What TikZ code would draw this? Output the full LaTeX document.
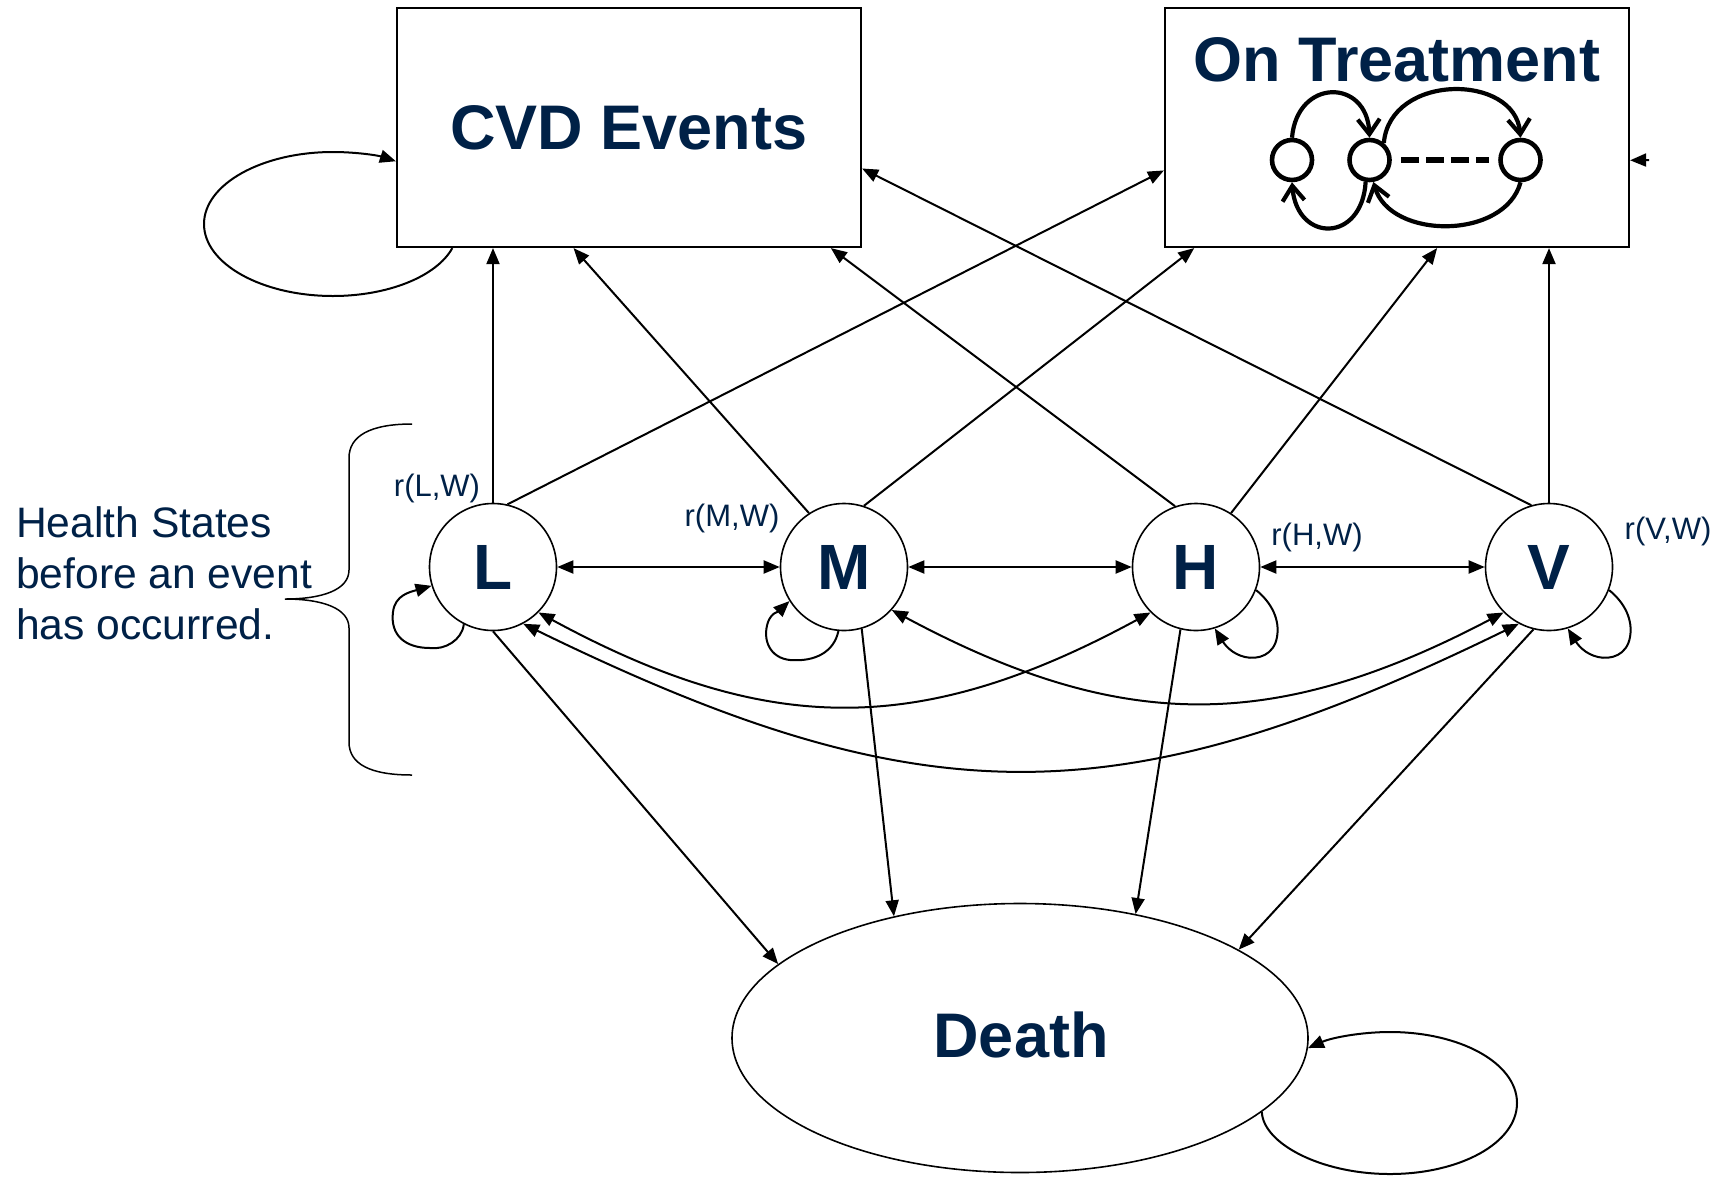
\documentclass[tikz,border=0pt]{standalone}
\usepackage{fontspec}
\setmainfont{Liberation Sans}
\usetikzlibrary{arrows.meta,calc,shapes.geometric}
\definecolor{navy}{HTML}{002147}
\begin{document}
\begin{tikzpicture}[x=1pt,y=-1pt,
  conn/.style={line width=2pt,-{Triangle[length=16pt,width=13pt]}},
  dconn/.style={line width=2pt,{Triangle[length=16pt,width=13pt]}-{Triangle[length=16pt,width=13pt]}},
  stbox/.style={draw,line width=2.2pt,minimum width=464pt,minimum height=239pt,inner sep=0pt},
  bigfont/.style={font=\fontsize{63}{70}\selectfont\bfseries,text=navy},
  state/.style={circle,draw,line width=1.6pt,minimum size=127pt,inner sep=0pt,font=\fontsize{64}{70}\selectfont\bfseries,text=navy},
  rlab/.style={font=\fontsize{31}{36}\selectfont,text=navy,inner sep=0pt},
  mini/.style={circle,draw,line width=4.6pt,minimum size=40pt,inner sep=0pt},
  barb/.style={line width=4.2pt,-{Straight Barb[length=15pt,width=22pt]}},
]
\useasboundingbox (0,0) rectangle (1721,1176);
\fill[white] (0,0) rectangle (1721,1176);

% boxes
\node[stbox,bigfont] (CVD) at (629,127.5) {CVD Events};
\node[stbox] (OT) at (1397,127.5) {};
\node[bigfont,anchor=base,inner sep=0pt] (ottitle) at (1397,81) {On Treatment};

% mini diagram
\node[mini] (c1) at (1292,160) {};
\node[mini] (c2) at (1369.5,160) {};
\node[mini] (c3) at (1520.5,160) {};
\draw[line width=6pt,dash pattern=on 18pt off 7pt,shorten <=9pt,shorten >=9pt] (c2) -- (c3);
\draw[barb] (c1.north) .. controls (1297,78) and (1367,78) .. (c2.north);
\draw[barb] (c2.50) .. controls (1390,73) and (1515,73) .. (c3.north);
\draw[barb] (c2.-100) .. controls (1362,243) and (1297,243) .. (c1.south);
\draw[barb] (c3.south) .. controls (1505,240) and (1390,240) .. (c2.-80);

% states
\node[state] (L) at (493,567) {L};
\node[state] (M) at (844,567) {M};
\node[state] (H) at (1196,567) {H};
\node[state] (V) at (1549,567) {V};

% death
\node[ellipse,draw,line width=1.6pt,minimum width=576pt,minimum height=269pt,inner sep=0pt] (D) at (1020,1038) {};
\node[bigfont,anchor=base,inner sep=0pt] (dtext) at (1021,1057) {Death};

% labels
\node[rlab] (rL) at (437,488) {r(L,W)};
\node[rlab] (rM) at (732,518) {r(M,W)};
\node[rlab] (rH) at (1317,537) {r(H,W)};
\node[rlab] (rV) at (1668,531) {r(V,W)};

% health states text and brace
\node[anchor=north west,align=left,inner sep=0pt,font=\fontsize{42.6}{51}\selectfont,text=navy] (hs) at (16,506) {Health States\\before an event\\has occurred.};
\draw[line width=1.5pt] (412,424) .. controls (370,424) and (349,436) .. (349,458) -- (349,570) .. controls (349,590) and (322,599) .. (285,599) .. controls (322,599) and (349,608) .. (349,628) -- (349,742) .. controls (349,764) and (370,775) .. (412,775);

% to CVD / OT
\draw[conn] (L.north) -- (L.north |- CVD.south);
\draw[conn] (L.77) -- ($(OT.north west)!0.678!(OT.south west)$);
\draw[conn] (M.123) -- ($(CVD.south west)!0.381!(CVD.south east)$);
\draw[conn] (M.72) -- ($(OT.south west)!0.065!(OT.south east)$);
\draw[conn] (H.109) -- ($(CVD.south west)!0.933!(CVD.south east)$);
\draw[conn] (H.57) -- ($(OT.south west)!0.586!(OT.south east)$);
\draw[conn] (V.106) -- ($(CVD.north east)!0.67!(CVD.south east)$);
\draw[conn] (V.north) -- (V.north |- OT.south);

% between states
\draw[dconn] (L) -- (M);
\draw[dconn] (M) -- (H);
\draw[dconn] (H) -- (V);
\draw[dconn] (L.-45) .. controls (768,737) and (921,737) .. (H.-135);
\draw[dconn] (M.-42) .. controls (1121,733) and (1274,733) .. (V.-135);
\draw[dconn] (L.-62) .. controls (923,819) and (1119,819) .. (V.-118);

% to death
\draw[conn] (L.south) -- (D.163);
\draw[conn] (M.-74) -- (D.136);
\draw[conn] (H.-104) -- (D.47);
\draw[conn] (V.-104) -- (D.22);

% self loops
\draw[conn] (L.-117) .. controls (462,640) and (445,650) .. (430,648) .. controls (405,648) and (390,635) .. (393,612) .. controls (395,595) and (410,592) .. (L.-163);
\draw[conn] (M.-95) .. controls (834,652) and (815,662) .. (790,660) .. controls (770,658) and (762,640) .. (768,622) .. controls (772,612) and (778,612) .. (M.-148);
\draw[conn] (H.-21) .. controls (1272,603) and (1280,620) .. (1277,637) .. controls (1274,655) and (1258,660) .. (1245,657) .. controls (1232,654) and (1225,645) .. (H.-73);
\draw[conn] (V.-21) .. controls (1625,603) and (1633,620) .. (1630,637) .. controls (1627,655) and (1611,660) .. (1598,657) .. controls (1585,654) and (1578,645) .. (V.-73);

\draw[conn] ($(CVD.south west)!0.121!(CVD.south east)$) .. controls (436.4,276.7) and (387.6,296) .. (333,296) .. controls (261.8,296) and (204,263.8) .. (204,224) .. controls (204,184.2) and (261.8,152) .. (333,152) .. controls (355.4,152) and (377.5,155.3) .. ($(CVD.north west)!0.64!(CVD.south west)$);

\draw[conn] (D.-17) .. controls (1263,1143) and (1320,1174) .. (1390,1174) .. controls (1460,1174) and (1517,1143) .. (1517,1103) .. controls (1517,1063) and (1460,1032) .. (1390,1032) .. controls (1361,1032) and (1331.6,1037.7) .. (D.-2);

% small arrow into OT
\coordinate (otin) at (1649,160);
\draw[conn] (otin) -- ($(OT.north east)!0.636!(OT.south east)$);
\end{tikzpicture}
\end{document}
